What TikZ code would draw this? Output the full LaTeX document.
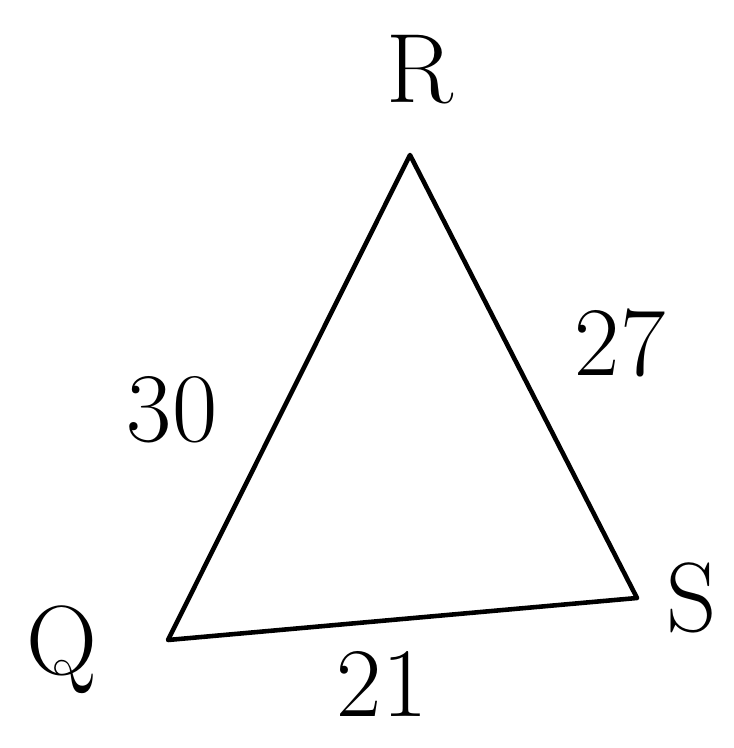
\documentclass[tikz,border=0pt]{standalone}
\usepackage{tikz}
\usetikzlibrary{positioning}

\begin{document}
\begin{tikzpicture}[
    every node/.style={font=\fontsize{28}{30}\selectfont},
    side/.style={draw, line width=1.3pt, line join=round},
    vlabel/.style={inner sep=1pt},
    slabel/.style={inner sep=1pt}
]
    \useasboundingbox (0,0) rectangle (7.33,7.48);

    % corners of the triangle
    \coordinate (R) at (4.10,5.93);
    \coordinate (Q) at (1.68,1.08);
    \coordinate (S) at (6.37,1.50);

    % sides
    \draw[side] (Q) -- (R) -- (S) -- cycle;

    % corner names
    \node[vlabel] (labR) at (4.20,6.78) {R};
    \node[vlabel] (labQ) at (0.62,0.98) {Q};
    \node[vlabel] (labS) at (6.92,1.50) {S};

    % side lengths
    \node[slabel] (lenRS) at (6.20,4.05) {27};
    \node[slabel] (lenQR) at (1.72,3.38) {30};
    \node[slabel] (lenQS) at (3.82,0.64) {21};
\end{tikzpicture}
\end{document}
